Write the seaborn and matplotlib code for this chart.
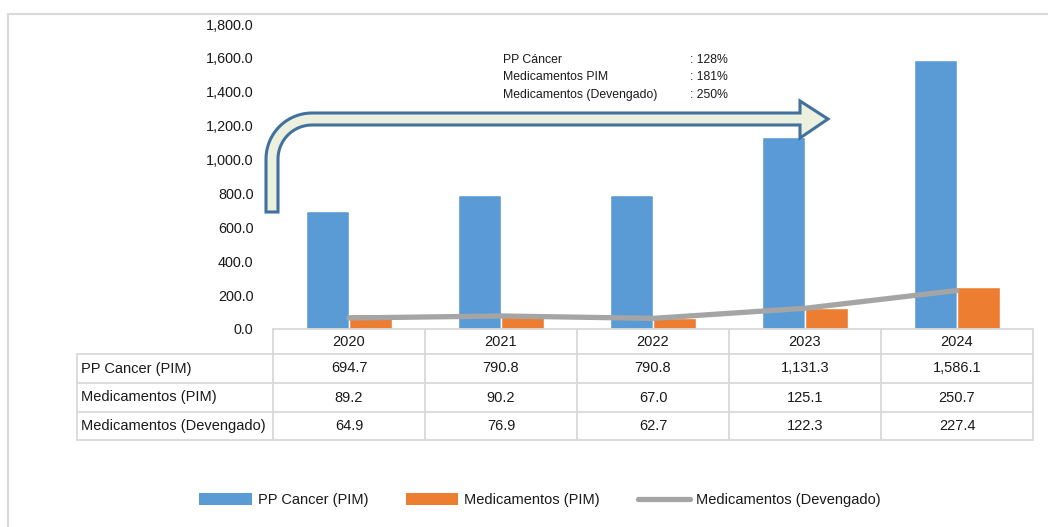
import numpy as np
import pandas as pd
import matplotlib
matplotlib.use("Agg")
import matplotlib.pyplot as plt
import seaborn as sns
from matplotlib.path import Path
from matplotlib.patches import PathPatch, Patch
from matplotlib.lines import Line2D
from matplotlib.transforms import blended_transform_factory

# ---------------- data ----------------
years = ["2020", "2021", "2022", "2023", "2024"]
pp_cancer = [694.7, 790.8, 790.8, 1131.3, 1586.1]
med_pim = [89.2, 90.2, 67.0, 125.1, 250.7]
med_dev = [64.9, 76.9, 62.7, 122.3, 227.4]
series_names = ["PP Cancer (PIM)", "Medicamentos (PIM)", "Medicamentos (Devengado)"]
growth_labels = ["PP Cáncer", "Medicamentos PIM", "Medicamentos (Devengado)"]
growth_values = [": 128%", ": 181%", ": 250%"]
y_ticks = [0, 200, 400, 600, 800, 1000, 1200, 1400, 1600, 1800]

BLUE = "#5B9BD5"
ORANGE = "#ED7D31"
GRAY = "#A5A5A5"
BORDER = "#D9D9D9"
TXT = "#1a1a1a"

sns.set_theme(style="white")
plt.rcParams["font.family"] = ["Liberation Sans", "DejaVu Sans"]

W, H = 1048, 527
fig = plt.figure(figsize=(W / 100, H / 100), dpi=100)
fig.patch.set_facecolor("white")


def fx(x):
    return x / W


def fy(y):
    return 1 - y / H


ax = fig.add_axes([fx(273), fy(329), fx(1033) - fx(273), fy(24) - fy(329)])

df = pd.DataFrame({
    "year": years * 2,
    "value": pp_cancer + med_pim,
    "series": [series_names[0]] * len(years) + [series_names[1]] * len(years),
})
sns.barplot(data=df, x="year", y="value", hue="series", palette=[BLUE, ORANGE],
            width=0.57, gap=0, saturation=1, legend=False, ax=ax)
sns.lineplot(x=np.arange(len(years)), y=med_dev, color=GRAY, lw=3.8,
             legend=False, ax=ax, solid_capstyle="round")

ax.set_xlim(-0.5, len(years) - 0.5)
ax.set_ylim(0, 1800)
ax.set_yticks(y_ticks)
ax.set_yticklabels([f"{v:,.1f}" for v in y_ticks], fontsize=10.4, color=TXT)
ax.tick_params(axis="y", length=0, pad=14)
ax.set_xticks([])
ax.set_xlabel("")
ax.set_ylabel("")
for s in ax.spines.values():
    s.set_visible(False)
ax.patch.set_alpha(0)

# ---------------- outer frame ----------------
fig.add_artist(Line2D([fx(8), 1], [fy(14), fy(14)], color=BORDER, lw=1.5))
fig.add_artist(Line2D([fx(8), fx(8)], [fy(14), 0], color=BORDER, lw=1.5))

# ---------------- data table ----------------
tr = blended_transform_factory(ax.transData, fig.transFigure)
row_lines = [329, 354, 383, 412, 440]
left_px = 77
lw_t = 1.3
# horizontal lines
fig.add_artist(Line2D([fx(273), fx(1033)], [fy(329), fy(329)], color=BORDER, lw=lw_t))
for y in row_lines[1:]:
    fig.add_artist(Line2D([fx(left_px), fx(1033)], [fy(y), fy(y)], color=BORDER, lw=lw_t))
# vertical lines
fig.add_artist(Line2D([fx(left_px), fx(left_px)], [fy(354), fy(440)], color=BORDER, lw=lw_t))
for i in range(len(years) + 1):
    xb = i - 0.5
    ax.add_artist(Line2D([xb, xb], [fy(329), fy(440)], color=BORDER, lw=lw_t,
                         transform=tr, clip_on=False))

tfs = 10.5
for i, yr in enumerate(years):
    ax.text(i, fy(341.5), yr, transform=tr, ha="center", va="center",
            fontsize=tfs, color=TXT)
rows = [pp_cancer, med_pim, med_dev]
for r, (name, vals) in enumerate(zip(series_names, rows)):
    yc = (row_lines[r + 1] + row_lines[r + 2]) / 2
    fig.text(fx(81), fy(yc), name, ha="left", va="center", fontsize=tfs, color=TXT)
    for i, v in enumerate(vals):
        ax.text(i, fy(yc), f"{v:,.1f}", transform=tr, ha="center", va="center",
                fontsize=tfs, color=TXT)

# ---------------- bent arrow (decoration) ----------------
Ro, t = 46, 12
cx, cy = 266 + Ro, 414 - Ro  # pixel coords, y up
pts = [(266, 315), (266, cy)]
for a in np.linspace(np.pi, np.pi / 2, 20):
    pts.append((cx + Ro * np.cos(a), cy + Ro * np.sin(a)))
pts += [(800, 414), (800, 426), (828, 408), (800, 389), (800, 402)]
Ri = Ro - t
for a in np.linspace(np.pi / 2, np.pi, 20):
    pts.append((cx + Ri * np.cos(a), cy + Ri * np.sin(a)))
pts += [(278, 315), (266, 315)]
verts = [(x / W, y / H) for x, y in pts]
codes = [Path.MOVETO] + [Path.LINETO] * (len(verts) - 2) + [Path.CLOSEPOLY]
fig.add_artist(PathPatch(Path(verts, codes), facecolor="#EBF1DE", edgecolor="#41719C",
                         lw=2.2, transform=fig.transFigure, joinstyle="miter"))

# ---------------- growth annotation ----------------
for k, (lab, val) in enumerate(zip(growth_labels, growth_values)):
    yy = 60 + k * 17.5
    fig.text(fx(503), fy(yy), lab, ha="left", va="center", fontsize=8.8, color=TXT)
    fig.text(fx(690), fy(yy), val, ha="left", va="center", fontsize=8.8, color=TXT)

# ---------------- legend ----------------
handles = [Patch(facecolor=BLUE, edgecolor="none"),
           Patch(facecolor=ORANGE, edgecolor="none"),
           Line2D([], [], color=GRAY, lw=3.8, solid_capstyle="round")]
fig.legend(handles, series_names, loc="center", bbox_to_anchor=(fx(540), fy(500)),
           ncol=3, frameon=False, fontsize=10.5, handlelength=3.6, handleheight=0.8,
           handletextpad=0.4, columnspacing=2.6, labelcolor=TXT)

fig.savefig("out.png", dpi=100, facecolor="white")
